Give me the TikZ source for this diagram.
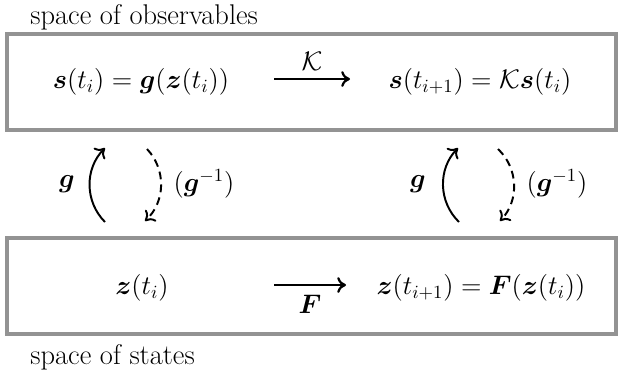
\documentclass[tikz,border=0pt]{standalone}
\usepackage{amsmath}
\usepackage{amssymb}
\usetikzlibrary{arrows.meta, positioning, calc}

\begin{document}
\begin{tikzpicture}[
      x=0.01887cm, y=-0.01887cm,
      >={To[length=4.7pt, width=8.5pt]},
      spacebox/.style={draw=gray!85, line width=2.1pt,
                       minimum width=11.49cm, minimum height=1.81cm},
      expr/.style={font=\fontsize{14.4}{17}\selectfont, inner sep=1pt},
      title/.style={font=\fontsize{15.3}{18}\selectfont, anchor=west, inner sep=0pt},
      map/.style={->, line width=1.2pt},
      lift/.style={->, line width=1.05pt, bend left=45},
      back/.style={->, line width=1.05pt, dashed, dash pattern=on 4.2pt off 2.8pt, bend left=45}
  ]
      \useasboundingbox (0,0) rectangle (624,374);

      % Die beiden Raeume
      \node[spacebox] (obs) at (311.5,82)  {};
      \node[spacebox] (sta) at (311.5,286) {};
      \node[title] (obst) at (30,17)  {space of observables};
      \node[title] (stat) at (30,357) {space of states};

      % Observablen
      \node[expr] (s0) at (141,82) {$\boldsymbol{s}(t_i) = \boldsymbol{g}(\boldsymbol{z}(t_i))$};
      \node[expr] (s1) at (480,82) {$\boldsymbol{s}(t_{i+1}) = \mathcal{K}\boldsymbol{s}(t_i)$};
      \coordinate (ka) at (274,79);
      \coordinate (kb) at (350,79);
      \draw[map] (ka) -- node[expr, above=3pt] (kl) {$\mathcal{K}$} (kb);

      % Zustaende
      \node[expr] (z0) at (142,288) {$\boldsymbol{z}(t_i)$};
      \node[expr] (z1) at (481,288) {$\boldsymbol{z}(t_{i+1}) = \boldsymbol{F}(\boldsymbol{z}(t_i))$};
      \coordinate (fa) at (274,285);
      \coordinate (fb) at (346,285);
      \draw[map] (fa) -- node[expr, below=4pt] (fl) {$\boldsymbol{F}$} (fb);

      % Abbildung g und Umkehrung
      \coordinate (ga1) at (105,222);
      \coordinate (gb1) at (105,148);
      \coordinate (ha1) at (147,149);
      \coordinate (hb1) at (145,221);
      \coordinate (ga2) at (459,222);
      \coordinate (gb2) at (458,148);
      \coordinate (ha2) at (498,149);
      \coordinate (hb2) at (500,221);

      \draw[lift] (ga1) to (gb1);
      \draw[back] (ha1) to (hb1);
      \draw[lift] (ga2) to (gb2);
      \draw[back] (ha2) to (hb2);

      \node[expr] (gl1) at (67,184)  {$\boldsymbol{g}$};
      \node[expr] (gi1) at (204,184) {$(\boldsymbol{g}^{-1})$};
      \node[expr] (gl2) at (418,184) {$\boldsymbol{g}$};
      \node[expr] (gi2) at (557,184) {$(\boldsymbol{g}^{-1})$};
  \end{tikzpicture}
\end{document}
